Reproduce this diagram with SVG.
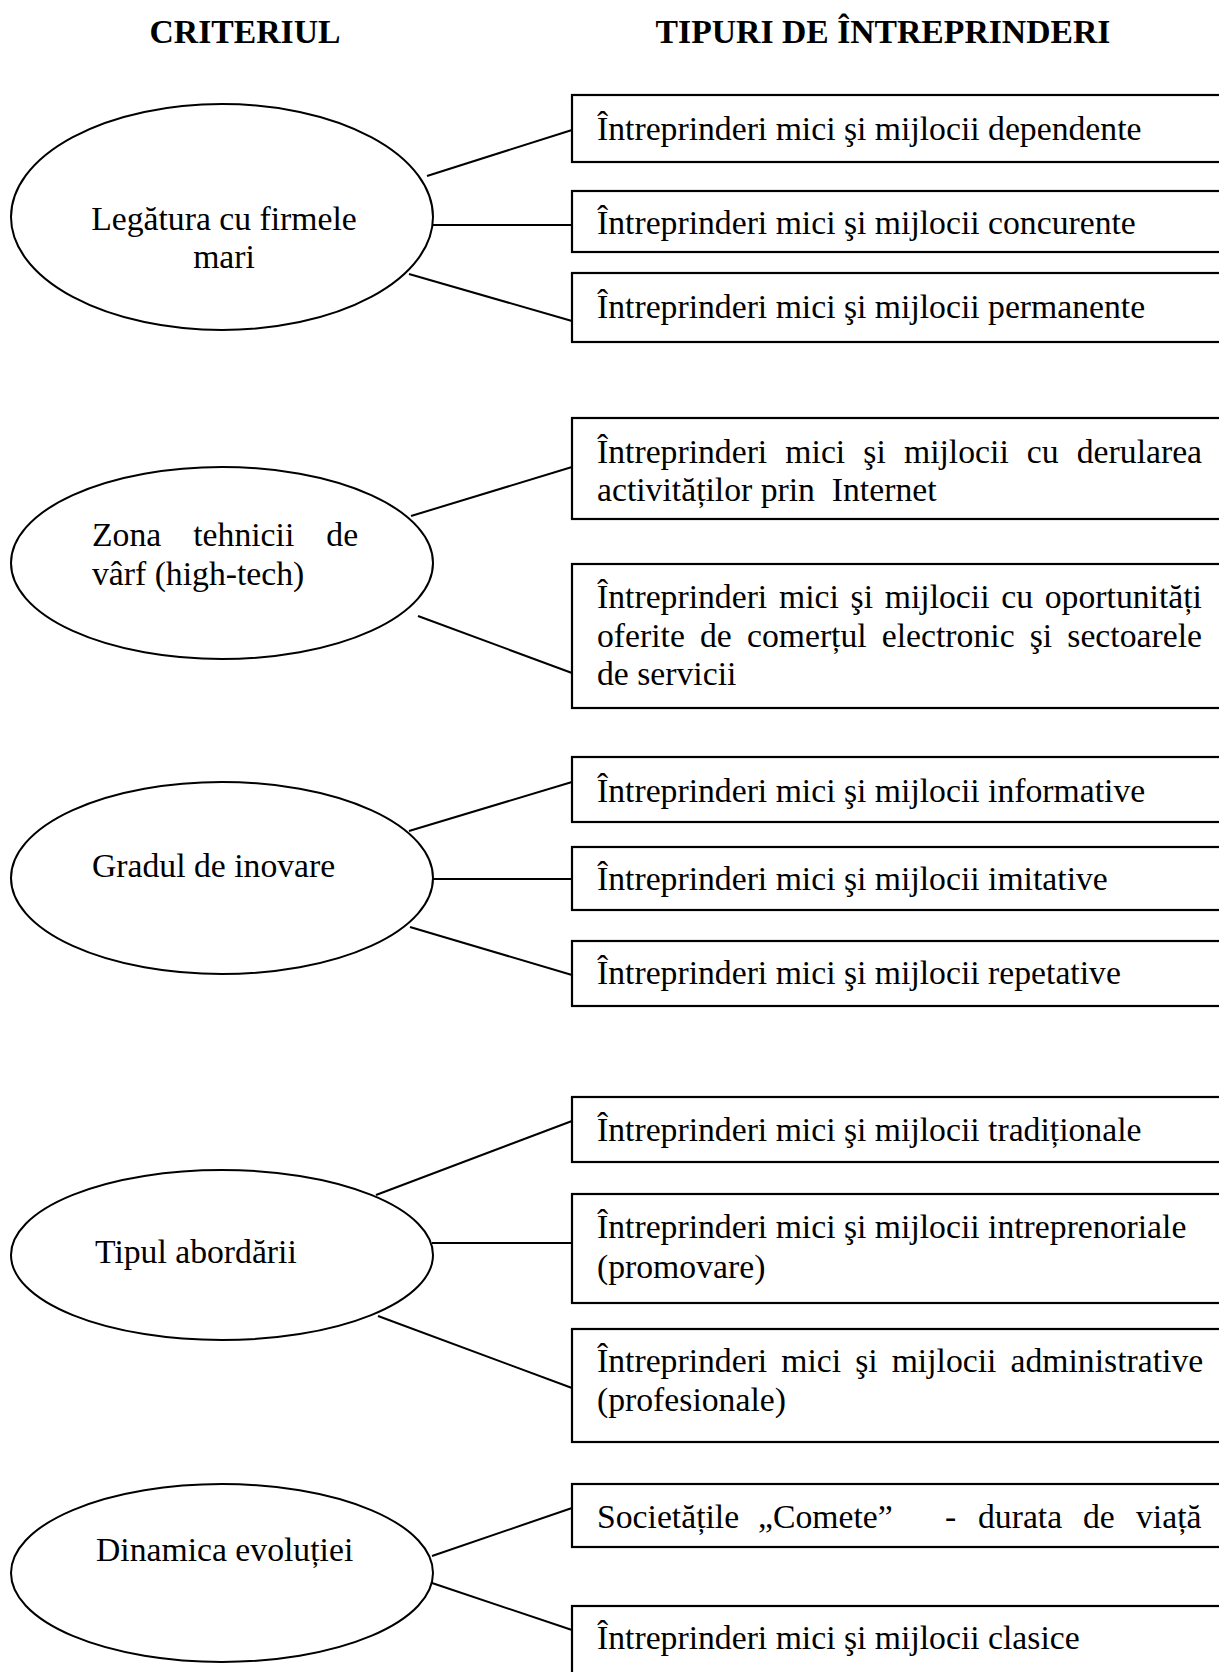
<svg xmlns="http://www.w3.org/2000/svg" width="1219" height="1672" viewBox="0 0 1219 1672">
  <style>
    .t { font-family: "Liberation Serif", "Times New Roman", serif; font-size: 33.7px; fill: #000; }
    .h { font-weight: bold; }
    .c { text-anchor: middle; }
    .crit ellipse { fill: #fff; stroke: #000; stroke-width: 2; }
    .type rect { fill: #fff; stroke: #000; stroke-width: 2.2; }
    .links line { stroke: #000; stroke-width: 2; }
  </style>

  <rect width="1219" height="1672" fill="#fff"/>

  <!-- column headings -->
  <g id="headings">
    <text class="t h c" x="245" y="43">CRITERIUL</text>
    <text class="t h c" x="883" y="43">TIPURI DE ÎNTREPRINDERI</text>
  </g>

  <!-- connectors between criteria and enterprise types -->
  <g id="connectors" class="links">
    <line x1="427" y1="176" x2="572" y2="130"/>
    <line x1="432" y1="225" x2="572" y2="225"/>
    <line x1="409" y1="274" x2="572" y2="321"/>

    <line x1="411" y1="516" x2="572" y2="467"/>
    <line x1="418" y1="616" x2="572" y2="673"/>

    <line x1="409" y1="831" x2="572" y2="782"/>
    <line x1="432" y1="879" x2="572" y2="879"/>
    <line x1="410" y1="927" x2="572" y2="975"/>

    <line x1="376" y1="1195" x2="572" y2="1121"/>
    <line x1="432" y1="1243" x2="572" y2="1243"/>
    <line x1="378" y1="1316" x2="572" y2="1388"/>

    <line x1="432" y1="1556" x2="572" y2="1508"/>
    <line x1="432" y1="1583" x2="572" y2="1630"/>
  </g>

  <!-- criteria -->
  <g id="crit-legatura" class="crit">
    <ellipse cx="222" cy="217" rx="211" ry="113"/>
    <text class="t c" x="224" y="230">Legătura cu firmele</text>
    <text class="t c" x="224" y="268">mari</text>
  </g>
  <g id="crit-hightech" class="crit">
    <ellipse cx="222" cy="563" rx="211" ry="96"/>
    <text class="t" x="92" y="546" word-spacing="23.6">Zona tehnicii de</text>
    <text class="t" x="92" y="585">vârf (high-tech)</text>
  </g>
  <g id="crit-inovare" class="crit">
    <ellipse cx="222" cy="878" rx="211" ry="96"/>
    <text class="t" x="92" y="877">Gradul de inovare</text>
  </g>
  <g id="crit-abordare" class="crit">
    <ellipse cx="222" cy="1255" rx="211" ry="85"/>
    <text class="t" x="95" y="1263">Tipul abordării</text>
  </g>
  <g id="crit-dinamica" class="crit">
    <ellipse cx="222" cy="1573" rx="211" ry="89"/>
    <text class="t" x="96" y="1561">Dinamica evoluției</text>
  </g>

  <!-- enterprise types -->
  <g id="type-dependente" class="type">
    <rect x="572" y="95" width="660" height="67"/>
    <text class="t" x="597" y="140">Întreprinderi mici şi mijlocii dependente</text>
  </g>
  <g id="type-concurente" class="type">
    <rect x="572" y="191" width="660" height="61"/>
    <text class="t" x="597" y="234">Întreprinderi mici şi mijlocii concurente</text>
  </g>
  <g id="type-permanente" class="type">
    <rect x="572" y="273" width="660" height="69"/>
    <text class="t" x="597" y="318">Întreprinderi mici şi mijlocii permanente</text>
  </g>

  <g id="type-internet" class="type">
    <rect x="572" y="418" width="660" height="101"/>
    <text class="t" x="597" y="463" word-spacing="9.7">Întreprinderi mici şi mijlocii cu derularea</text>
    <text class="t" x="597" y="501" xml:space="preserve">activităților prin  Internet</text>
  </g>
  <g id="type-comert" class="type">
    <rect x="572" y="564" width="660" height="144"/>
    <text class="t" x="597" y="608" word-spacing="3.3">Întreprinderi mici şi mijlocii cu oportunități</text>
    <text class="t" x="597" y="647" word-spacing="6.7">oferite de comerțul electronic şi sectoarele</text>
    <text class="t" x="597" y="685">de servicii</text>
  </g>

  <g id="type-informative" class="type">
    <rect x="572" y="757" width="660" height="65"/>
    <text class="t" x="597" y="802">Întreprinderi mici şi mijlocii informative</text>
  </g>
  <g id="type-imitative" class="type">
    <rect x="572" y="847" width="660" height="63"/>
    <text class="t" x="597" y="890">Întreprinderi mici şi mijlocii imitative</text>
  </g>
  <g id="type-repetative" class="type">
    <rect x="572" y="941" width="660" height="65"/>
    <text class="t" x="597" y="984">Întreprinderi mici şi mijlocii repetative</text>
  </g>

  <g id="type-traditionale" class="type">
    <rect x="572" y="1097" width="660" height="65"/>
    <text class="t" x="597" y="1141">Întreprinderi mici şi mijlocii tradiționale</text>
  </g>
  <g id="type-intreprenoriale" class="type">
    <rect x="572" y="1194" width="660" height="109"/>
    <text class="t" x="597" y="1238">Întreprinderi mici şi mijlocii intreprenoriale</text>
    <text class="t" x="597" y="1278">(promovare)</text>
  </g>
  <g id="type-administrative" class="type">
    <rect x="572" y="1329" width="660" height="113"/>
    <text class="t" x="597" y="1372" word-spacing="5.6">Întreprinderi mici şi mijlocii administrative</text>
    <text class="t" x="597" y="1411">(profesionale)</text>
  </g>

  <g id="type-comete" class="type">
    <rect x="572" y="1484" width="660" height="63"/>
    <text class="t" y="1528"><tspan x="597">Societățile</tspan><tspan x="758">„Comete”</tspan><tspan x="945">-</tspan><tspan x="978">durata</tspan><tspan x="1083">de</tspan><tspan x="1136">viață</tspan></text>
  </g>
  <g id="type-clasice" class="type">
    <rect x="572" y="1606" width="660" height="90"/>
    <text class="t" x="597" y="1649">Întreprinderi mici şi mijlocii clasice</text>
  </g>
</svg>
